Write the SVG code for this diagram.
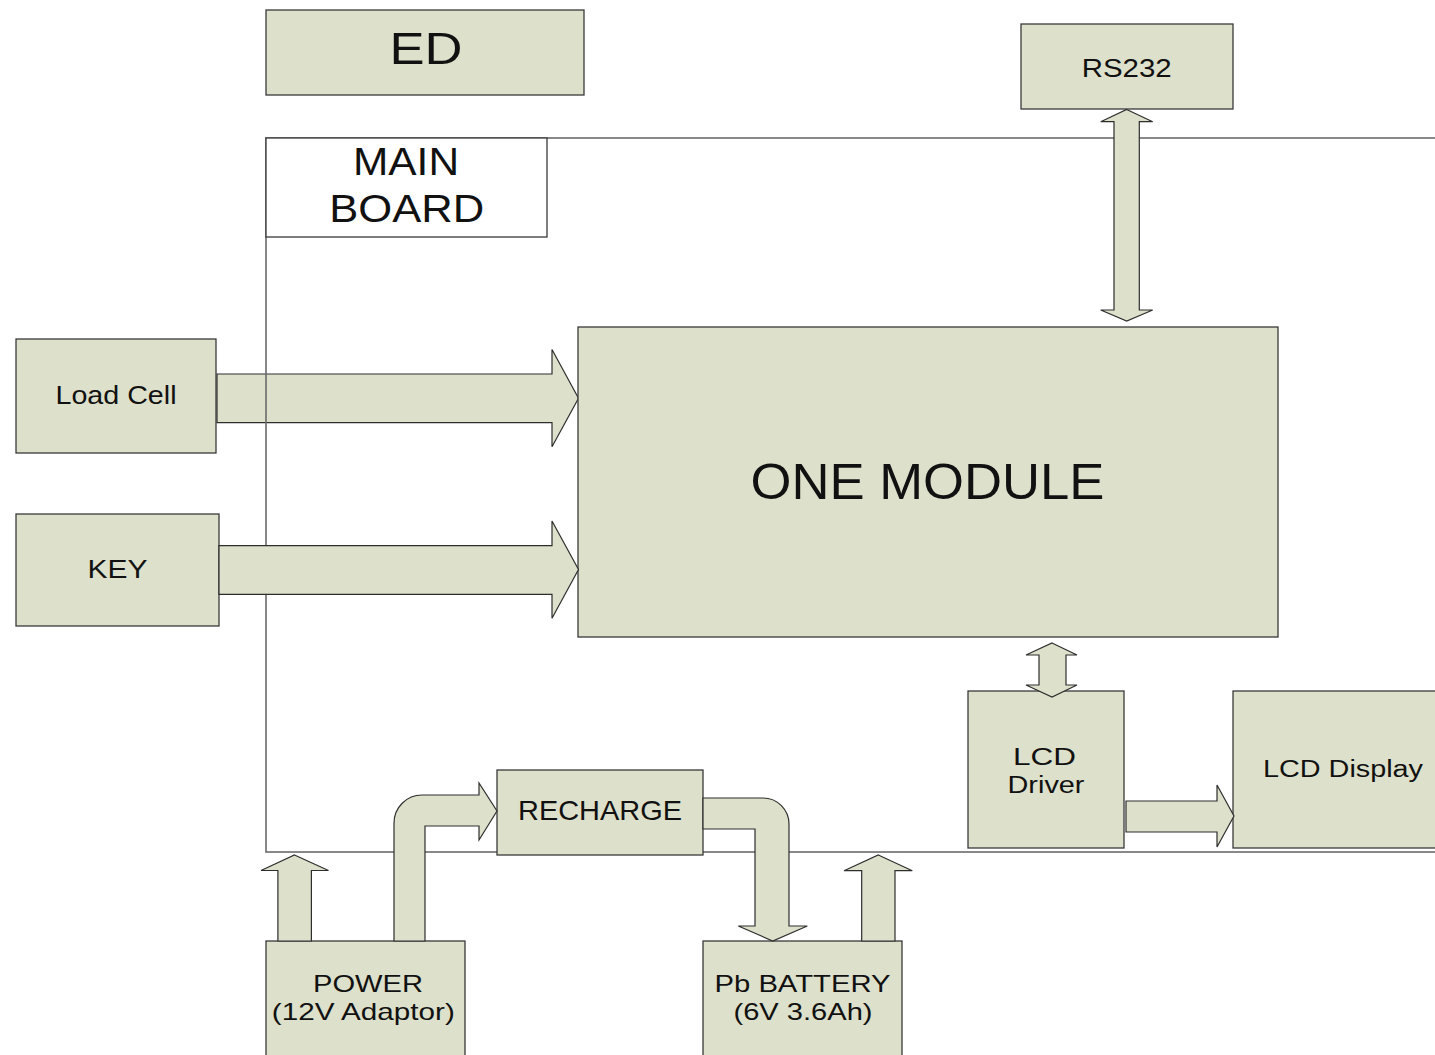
<svg xmlns="http://www.w3.org/2000/svg" width="1435" height="1055" viewBox="0 0 1435 1055">
<style>
.box{fill:#dde0ca;stroke:#3a3a3a;stroke-width:1.3}
.white{fill:#ffffff;stroke:#3a3a3a;stroke-width:1.3}
.arrow{fill:#dde0ca;stroke:#2e2e2e;stroke-width:1.2;stroke-linejoin:miter}
.board{fill:none;stroke:#6b6b6b;stroke-width:1.6}
text{font-family:"Liberation Sans",Arial,sans-serif;fill:#111;text-anchor:middle}
</style>
<rect width="1435" height="1055" fill="#ffffff"/>
<g id="connectors-under">
<path class="arrow" d="M217,374 L552,374 L552,349.5 L578.5,398.3 L552,446.7 L552,422.7 L217,422.7 Z"/>
</g>
<g id="mainboard">
<rect class="board" x="266" y="138" width="1250" height="714"/>
</g>
<g id="ed"><rect class="box" x="266" y="10" width="318" height="85"/><text x="426" y="63.5" font-size="44" textLength="73" lengthAdjust="spacingAndGlyphs">ED</text></g>
<g id="rs232"><rect class="box" x="1021" y="24" width="212" height="85"/><text x="1126.7" y="76.5" font-size="25.5" textLength="90" lengthAdjust="spacingAndGlyphs">RS232</text></g>
<g id="mainboard-label"><rect class="white" x="266" y="138" width="281" height="99"/><text x="406" y="174.5" font-size="38" textLength="106" lengthAdjust="spacingAndGlyphs">MAIN</text><text x="406.7" y="222" font-size="39" textLength="155" lengthAdjust="spacingAndGlyphs">BOARD</text></g>
<g id="loadcell"><rect class="box" x="16" y="339" width="200" height="114"/><text x="116" y="403.5" font-size="25.5" textLength="121" lengthAdjust="spacingAndGlyphs">Load Cell</text></g>
<g id="key"><rect class="box" x="16" y="514" width="203" height="112"/><text x="117.5" y="578" font-size="25.5" textLength="60" lengthAdjust="spacingAndGlyphs">KEY</text></g>
<g id="onemodule"><rect class="box" x="578" y="327" width="700" height="310"/><text x="927.5" y="498.5" font-size="50" textLength="354" lengthAdjust="spacingAndGlyphs">ONE MODULE</text></g>
<g id="lcddriver"><rect class="box" x="968" y="691" width="156" height="157"/><text x="1044.5" y="765" font-size="23.5" textLength="63" lengthAdjust="spacingAndGlyphs">LCD</text><text x="1046" y="793" font-size="23.5" textLength="77" lengthAdjust="spacingAndGlyphs">Driver</text></g>
<g id="lcddisplay"><rect class="box" x="1233" y="691" width="250" height="157"/><text x="1343" y="777" font-size="23" textLength="160" lengthAdjust="spacingAndGlyphs">LCD Display</text></g>
<g id="recharge"><rect class="box" x="497" y="770" width="206" height="85"/><text x="600" y="820" font-size="28" textLength="164" lengthAdjust="spacingAndGlyphs">RECHARGE</text></g>
<g id="power"><rect class="box" x="266" y="941" width="199" height="130"/><text x="368" y="992" font-size="24" textLength="110" lengthAdjust="spacingAndGlyphs">POWER</text><text x="363.3" y="1020" font-size="24" textLength="183" lengthAdjust="spacingAndGlyphs">(12V Adaptor)</text></g>
<g id="battery"><rect class="box" x="703" y="941" width="199" height="130"/><text x="802.5" y="992" font-size="24" textLength="176" lengthAdjust="spacingAndGlyphs">Pb BATTERY</text><text x="803" y="1020" font-size="24" textLength="139" lengthAdjust="spacingAndGlyphs">(6V 3.6Ah)</text></g>
<g id="connectors">
<path class="arrow" d="M219,545.7 L552,545.7 L552,521 L578.5,569.5 L552,618.3 L552,594.3 L219,594.3 Z"/>
<path class="arrow" d="M1126.7,109.5 L1152.7,121.7 L1139.3,121.7 L1139.3,310 L1152.7,310 L1126.7,321 L1100.7,310 L1114,310 L1114,121.7 L1100.7,121.7 Z"/>
<path class="arrow" d="M1052,643 L1077,655 L1066,655 L1066,685 L1077,685 L1052,697 L1026,685 L1039,685 L1039,655 L1026,655 Z"/>
<path class="arrow" d="M1126,801 L1217,801 L1217,785 L1234,816 L1217,847 L1217,832 L1126,832 Z"/>
<path class="arrow" d="M294.5,855 L328.5,870.5 L311.4,870.5 L311.4,941 L277.9,941 L277.9,870.5 L261,870.5 Z"/>
<path class="arrow" d="M878.3,855 L912.3,870.7 L895,870.7 L895,941 L861.7,941 L861.7,870.7 L844,870.7 Z"/>
<path class="arrow" d="M394,941 L394,823 A28,28 0 0 1 422,795 L479,795 L479,783 L497,811 L479,840 L479,826 L425,826 L425,941 Z"/>
<path class="arrow" d="M703,798 L763,798 A26,26 0 0 1 789,824 L789,926 L807.3,926 L772.7,941 L738.3,926 L755,926 L755,829 L703,829 Z"/>
</g>
</svg>
